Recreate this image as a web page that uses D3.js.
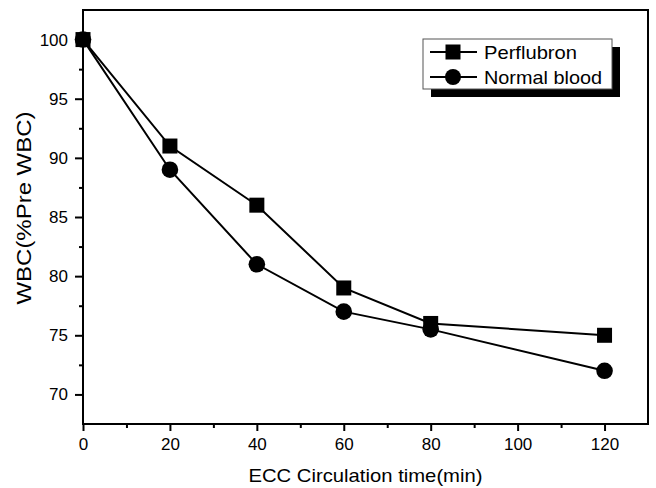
<!DOCTYPE html>
<html>
<head>
<meta charset="utf-8">
<script src="https://cdn.jsdelivr.net/npm/d3@7"></script>
<style>
  body { margin: 0; background: #fff; }
  text { font-family: "Liberation Sans", Arial, sans-serif; fill: #000; }
</style>
</head>
<body>
<div id="chart"></div>
<script>
// data
let times = [0, 20, 40, 60, 80, 120];
let perflubron = [100, 91, 86, 79, 76, 75];
let normalBlood = [100, 89, 81, 77, 75.5, 72];
let seriesNames = ["Perflubron", "Normal blood"];
let xTicks = [0, 20, 40, 60, 80, 100, 120];
let yTicks = [70, 75, 80, 85, 90, 95, 100];

let margin = {top: 10, right: 8, bottom: 64, left: 83},
    width = 656 - margin.left - margin.right,
    height = 488 - margin.top - margin.bottom;

let svg = d3.select("#chart")
    .append("svg")
    .attr("width", 656)
    .attr("height", 488)
    .append("g")
    .attr("transform", "translate(" + margin.left + "," + margin.top + ")");

let x = d3.scaleLinear().domain([0, 130]).range([0, width]);
let y = d3.scaleLinear().domain([67.5, 102.5]).range([height, 0]);

// frame
svg.append("rect")
    .attr("width", width)
    .attr("height", height)
    .attr("fill", "none")
    .attr("stroke", "#000")
    .attr("stroke-width", 2);

// minor ticks
svg.append("g")
    .attr("transform", "translate(0," + height + ")")
    .call(d3.axisBottom(x).tickValues(d3.range(10, 130, 20)).tickSize(4).tickFormat(""))
    .call(g => g.select(".domain").remove())
    .selectAll("line").attr("stroke-width", 2);

svg.append("g")
    .call(d3.axisLeft(y).tickValues(d3.range(72.5, 102.5, 5)).tickSize(4).tickFormat(""))
    .call(g => g.select(".domain").remove())
    .selectAll("line").attr("stroke-width", 2);

// major ticks
let xAxis = svg.append("g")
    .attr("transform", "translate(0," + height + ")")
    .call(d3.axisBottom(x).tickValues(xTicks).tickSize(7).tickPadding(7));
xAxis.select(".domain").remove();
xAxis.selectAll("line").attr("stroke-width", 2);
xAxis.selectAll("text").style("font-size", "17px");

let yAxis = svg.append("g")
    .call(d3.axisLeft(y).tickValues(yTicks).tickSize(8).tickPadding(7));
yAxis.select(".domain").remove();
yAxis.selectAll("line").attr("stroke-width", 2);
yAxis.selectAll("text").style("font-size", "17px");

// axis labels
svg.append("text")
    .attr("text-anchor", "middle")
    .attr("x", width / 2)
    .attr("y", height + 58)
    .attr("textLength", 234)
    .attr("lengthAdjust", "spacingAndGlyphs")
    .style("font-size", "19px")
    .text("ECC Circulation time(min)");

svg.append("text")
    .attr("text-anchor", "middle")
    .attr("transform", "translate(" + (-52) + "," + 198 + ") rotate(-90)")
    .attr("textLength", 193)
    .attr("lengthAdjust", "spacingAndGlyphs")
    .style("font-size", "20px")
    .text("WBC(%Pre WBC)");

// lines
let line = d3.line()
    .x((d, i) => x(times[i]))
    .y(d => y(d));

[perflubron, normalBlood].forEach(s => {
    svg.append("path")
        .datum(s)
        .attr("d", line)
        .attr("fill", "none")
        .attr("stroke", "#000")
        .attr("stroke-width", 2);
});

// markers
let sq = 15;
svg.selectAll(".sq")
    .data(perflubron)
    .enter()
    .append("rect")
    .attr("x", (d, i) => x(times[i]) - sq / 2)
    .attr("y", d => y(d) - sq / 2)
    .attr("width", sq)
    .attr("height", sq)
    .attr("fill", "#000");

svg.selectAll(".dot")
    .data(normalBlood)
    .enter()
    .append("circle")
    .attr("cx", (d, i) => x(times[i]))
    .attr("cy", d => y(d))
    .attr("r", 8.3)
    .attr("fill", "#000");

// legend
let lg = svg.append("g").attr("transform", "translate(" + (423 - margin.left) + "," + (39 - margin.top) + ")");
lg.append("rect")
    .attr("x", 8).attr("y", 8)
    .attr("width", 189).attr("height", 50)
    .attr("fill", "#000");
lg.append("rect")
    .attr("width", 189).attr("height", 50)
    .attr("fill", "#fff")
    .attr("stroke", "#555")
    .attr("stroke-width", 1);

let legendWidths = [93, 118];
seriesNames.forEach((name, i) => {
    let cy = 13 + i * 25;
    lg.append("line")
        .attr("x1", 7).attr("x2", 54)
        .attr("y1", cy).attr("y2", cy)
        .attr("stroke", "#000")
        .attr("stroke-width", 2);
    if (i === 0) {
        lg.append("rect")
            .attr("x", 30 - 7.5).attr("y", cy - 7.5)
            .attr("width", 15).attr("height", 15)
            .attr("fill", "#000");
    } else {
        lg.append("circle")
            .attr("cx", 30).attr("cy", cy)
            .attr("r", 8)
            .attr("fill", "#000");
    }
    lg.append("text")
        .attr("x", 61)
        .attr("y", cy + 7)
        .attr("textLength", legendWidths[i])
        .attr("lengthAdjust", "spacingAndGlyphs")
        .style("font-size", "18.5px")
        .text(name);
});
</script>
</body>
</html>
